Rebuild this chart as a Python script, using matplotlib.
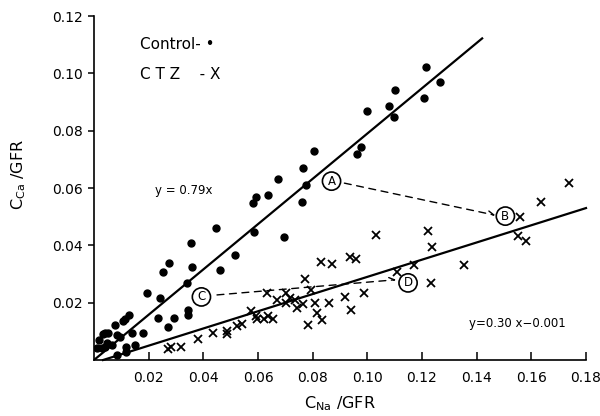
import numpy as np
import matplotlib
matplotlib.use('Agg')
import matplotlib.pyplot as plt
from matplotlib.ticker import FixedLocator

##
## Control (dots)
##
ctl_x = [0.1215, 0.1265, 0.1102, 0.1207, 0.1080, 0.1000, 0.1098, 0.0975, 0.0964, 0.0804,
         0.0764, 0.0775, 0.0760, 0.0673, 0.0636, 0.0593, 0.0582, 0.0695, 0.0585, 0.0447,
         0.0356, 0.0516, 0.0273, 0.0251, 0.0360, 0.0462, 0.0342, 0.0193, 0.0240, 0.0345,
         0.0345, 0.0291, 0.0233, 0.0269, 0.0178, 0.0138, 0.0149, 0.0116, 0.0116, 0.0084,
         0.0127, 0.0113, 0.0105, 0.0076, 0.0040, 0.0051, 0.0033, 0.0084, 0.0095, 0.0018,
         0.0047, 0.0065, 0.0011, 0.0029, 0.0040]
ctl_y = [0.1022, 0.0970, 0.0942, 0.0914, 0.0886, 0.0868, 0.0848, 0.0743, 0.0719, 0.0729,
         0.0670, 0.0610, 0.0551, 0.0631, 0.0576, 0.0569, 0.0548, 0.0429, 0.0446, 0.0460,
         0.0408, 0.0366, 0.0338, 0.0307, 0.0324, 0.0314, 0.0269, 0.0234, 0.0216, 0.0174,
         0.0157, 0.0146, 0.0146, 0.0115, 0.0094, 0.0094, 0.0052, 0.0045, 0.0028, 0.0017,
         0.0157, 0.0143, 0.0136, 0.0122, 0.0094, 0.0094, 0.0091, 0.0087, 0.0080, 0.0070,
         0.0059, 0.0052, 0.0042, 0.0042, 0.0045]

##
## CTZ (crosses)
##
ctz_x = [0.0280, 0.0269, 0.0320, 0.0382, 0.0436, 0.0487, 0.0487, 0.0524, 0.0542, 0.0575,
         0.0593, 0.0596, 0.0622, 0.0636, 0.0655, 0.0633, 0.0669, 0.0702, 0.0702, 0.0716,
         0.0735, 0.0742, 0.0771, 0.0793, 0.0764, 0.0807, 0.0858, 0.0920, 0.0989, 0.0942,
         0.0815, 0.0833, 0.0782, 0.0829, 0.0869, 0.0938, 0.0960, 0.1033, 0.1109, 0.1171,
         0.1233, 0.1353, 0.1222, 0.1236, 0.1560, 0.1553, 0.1582, 0.1636, 0.1738]
ctz_y = [0.0045, 0.0038, 0.0045, 0.0073, 0.0094, 0.0101, 0.0091, 0.0119, 0.0126, 0.0171,
         0.0153, 0.0143, 0.0143, 0.0153, 0.0143, 0.0234, 0.0209, 0.0234, 0.0199, 0.0216,
         0.0209, 0.0181, 0.0283, 0.0244, 0.0195, 0.0199, 0.0199, 0.0220, 0.0234, 0.0174,
         0.0164, 0.0140, 0.0122, 0.0342, 0.0335, 0.0359, 0.0352, 0.0436, 0.0307, 0.0331,
         0.0269, 0.0331, 0.0450, 0.0394, 0.0499, 0.0433, 0.0415, 0.0551, 0.0617]

## regression lines
ctl_slope = 0.79
ctz_slope, ctz_icpt = 0.30, -0.001
ctl_xrange = [0.0, 0.142]
ctz_xrange = [0.0033, 0.18]

## circled labels and the dashed shifts between them
circ_labels = ['A', 'B', 'C', 'D']
circ_x = [0.0869, 0.1505, 0.0393, 0.1149]
circ_y = [0.0624, 0.0502, 0.0220, 0.0269]
arrows = [((0.0916, 0.0617), (0.1468, 0.0505)),
          ((0.0450, 0.0227), (0.1105, 0.0280))]

xticks = [0.02, 0.04, 0.06, 0.08, 0.10, 0.12, 0.14, 0.16, 0.18]
xticklabels = ['0.02', '0.04', '0.06', '0.08', '0.10', '0.12', '0.14', '0.16', '0.18']
yticks = [0.02, 0.04, 0.06, 0.08, 0.10, 0.12]
yticklabels = ['0.02', '0.04', '0.06', '0.08', '0.10', '0.12']

fig = plt.figure(figsize=(6.0, 4.16), dpi=100, facecolor='w')
ax = fig.add_axes([94/600, 1-360/416, 492/600, 344/416])

ax.plot(ctl_x, ctl_y, 'o', color='k', ms=5.0, mec='k')
ax.plot(ctz_x, ctz_y, 'x', color='k', ms=6.0, mew=1.3)

xx = np.array(ctl_xrange)
ax.plot(xx, ctl_slope*xx, color='k', lw=1.6)
xx = np.array(ctz_xrange)
ax.plot(xx, ctz_slope*xx + ctz_icpt, color='k', lw=1.6, clip_on=False)

for lab, cx, cy in zip(circ_labels, circ_x, circ_y):
    ax.text(cx, cy, lab, ha='center', va='center', fontsize=8.5,
            bbox=dict(boxstyle='circle,pad=0.22', fc='w', ec='k', lw=1.2))
for (x0, y0), (x1, y1) in arrows:
    ax.annotate('', xy=(x1, y1), xytext=(x0, y0),
                arrowprops=dict(arrowstyle='->', ls=(0, (5, 4)), lw=1.0, color='k',
                                shrinkA=0, shrinkB=0))

ax.text(0.0167, 0.1100, 'Control- \u2022', fontsize=11, va='center')
ax.text(0.0167, 0.0995, 'C T Z    - X', fontsize=11, va='center')
ax.text(0.0330, 0.0593, 'y = 0.79x', fontsize=8.5, ha='center', va='center')
ax.text(0.1550, 0.0129, 'y=0.30 x\u22120.001', fontsize=8.5, ha='center', va='center')

ax.set_xlim(0, 0.18)
ax.set_ylim(0, 0.12)
ax.spines['top'].set_visible(False)
ax.spines['right'].set_visible(False)
ax.spines['left'].set_linewidth(1.2)
ax.spines['bottom'].set_linewidth(1.2)

ax.xaxis.set_major_locator(FixedLocator(xticks))
ax.set_xticklabels(xticklabels)
ax.yaxis.set_major_locator(FixedLocator(yticks))
ax.set_yticklabels(yticklabels)
ax.tick_params(axis='x', direction='in', length=6, width=1.1, labelsize=10, pad=8)
ax.tick_params(axis='y', direction='out', length=4, width=1.1, labelsize=10, pad=4)

ax.set_xlabel(r'C$_{\mathrm{Na}}$ /GFR', fontsize=11.5)
ax.set_ylabel(r'C$_{\mathrm{Ca}}$ /GFR', fontsize=11.5)
ax.xaxis.set_label_coords(0.5, -0.1)
ax.yaxis.set_label_coords(-0.135, 0.54)

plt.savefig('out.png', format='png', dpi=100)
